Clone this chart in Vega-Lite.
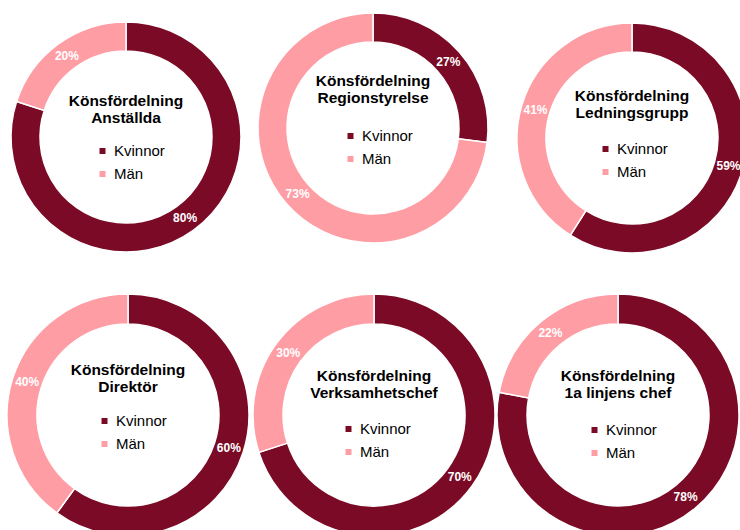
{
  "$schema": "https://vega.github.io/schema/vega-lite/v6.json",
  "padding": 0,
  "spacing": 0,
  "background": "white",
  "config": {
    "view": {"stroke": null},
    "font": "Liberation Sans",
    "legend": {"padding": 0, "labelFont": "Liberation Sans", "labelFontSize": 15, "labelColor": "#000000", "symbolType": "square", "symbolSize": 36, "symbolStrokeWidth": 0, "rowPadding": 7, "labelOffset": 4, "title": null}
  },
  "resolve": {"scale": {"color": "independent"}, "legend": {"color": "independent"}},
  "vconcat": [
    {
      "spacing": 0,
      "bounds": "flush",
      "resolve": {"scale": {"color": "independent"}, "legend": {"color": "independent"}},
      "hconcat": [
        {
          "width": 252, "height": 274,
          "data": {"values": [{"grupp": "Anställda", "kon": "Kvinnor", "andel": 0.80}, {"grupp": "Anställda", "kon": "Män", "andel": 0.20}]},
          "layer": [
            {"mark": {"type": "arc", "innerRadius": 86, "outerRadius": 115, "stroke": "white", "strokeWidth": 1.5},
             "encoding": {"theta": {"field": "andel", "type": "quantitative", "stack": true},
                          "order": {"field": "kon", "type": "ordinal", "sort": "ascending"},
                          "color": {"field": "kon", "type": "nominal", "scale": {"domain": ["Kvinnor", "Män"], "range": ["#7A0A25", "#FF9DA5"]}, "legend": {"orient": "none", "legendX": 95, "legendY": 143.5}}}},
            {"mark": {"type": "text", "radius": 100.5, "fontSize": 12, "fontWeight": "bold", "fill": "white"},
             "encoding": {"theta": {"field": "andel", "type": "quantitative", "stack": true},
                          "order": {"field": "kon", "type": "ordinal", "sort": "ascending"},
                          "text": {"field": "andel", "type": "quantitative", "format": ".0%"}}},
            {"data": {"values": [{"titel": "Anställda"}]},
             "mark": {"type": "text", "text": ["Könsfördelning", "Anställda"], "fontSize": 15.5, "fontWeight": "bold", "fill": "#000000", "align": "center", "baseline": "alphabetic", "lineHeight": 17, "dy": -31},
             "encoding": {}}
          ]
        },
        {
          "width": 242, "height": 256,
          "data": {"values": [{"grupp": "Regionstyrelse", "kon": "Kvinnor", "andel": 0.27}, {"grupp": "Regionstyrelse", "kon": "Män", "andel": 0.73}]},
          "layer": [
            {"mark": {"type": "arc", "innerRadius": 86, "outerRadius": 115, "stroke": "white", "strokeWidth": 1.5},
             "encoding": {"theta": {"field": "andel", "type": "quantitative", "stack": true},
                          "order": {"field": "kon", "type": "ordinal", "sort": "ascending"},
                          "color": {"field": "kon", "type": "nominal", "scale": {"domain": ["Kvinnor", "Män"], "range": ["#7A0A25", "#FF9DA5"]}, "legend": {"orient": "none", "legendX": 91, "legendY": 128.5}}}},
            {"mark": {"type": "text", "radius": 100.5, "fontSize": 12, "fontWeight": "bold", "fill": "white"},
             "encoding": {"theta": {"field": "andel", "type": "quantitative", "stack": true},
                          "order": {"field": "kon", "type": "ordinal", "sort": "ascending"},
                          "text": {"field": "andel", "type": "quantitative", "format": ".0%"}}},
            {"data": {"values": [{"titel": "Regionstyrelse"}]},
             "mark": {"type": "text", "text": ["Könsfördelning", "Regionstyrelse"], "fontSize": 15.5, "fontWeight": "bold", "fill": "#000000", "align": "center", "baseline": "alphabetic", "lineHeight": 17, "dy": -42},
             "encoding": {}}
          ]
        },
        {
          "width": 276, "height": 276,
          "data": {"values": [{"grupp": "Ledningsgrupp", "kon": "Kvinnor", "andel": 0.59}, {"grupp": "Ledningsgrupp", "kon": "Män", "andel": 0.41}]},
          "layer": [
            {"mark": {"type": "arc", "innerRadius": 86, "outerRadius": 115, "stroke": "white", "strokeWidth": 1.5},
             "encoding": {"theta": {"field": "andel", "type": "quantitative", "stack": true},
                          "order": {"field": "kon", "type": "ordinal", "sort": "ascending"},
                          "color": {"field": "kon", "type": "nominal", "scale": {"domain": ["Kvinnor", "Män"], "range": ["#7A0A25", "#FF9DA5"]}, "legend": {"orient": "none", "legendX": 104, "legendY": 141.5}}}},
            {"mark": {"type": "text", "radius": 100.5, "fontSize": 12, "fontWeight": "bold", "fill": "white"},
             "encoding": {"theta": {"field": "andel", "type": "quantitative", "stack": true},
                          "order": {"field": "kon", "type": "ordinal", "sort": "ascending"},
                          "text": {"field": "andel", "type": "quantitative", "format": ".0%"}}},
            {"data": {"values": [{"titel": "Ledningsgrupp"}]},
             "mark": {"type": "text", "text": ["Könsfördelning", "Ledningsgrupp"], "fontSize": 15.5, "fontWeight": "bold", "fill": "#000000", "align": "center", "baseline": "alphabetic", "lineHeight": 17, "dy": -37},
             "encoding": {}}
          ]
        }
      ]
    },
    {
      "spacing": 0,
      "bounds": "flush",
      "resolve": {"scale": {"color": "independent"}, "legend": {"color": "independent"}},
      "hconcat": [
        {
          "width": 256, "height": 278,
          "data": {"values": [{"grupp": "Direktör", "kon": "Kvinnor", "andel": 0.60}, {"grupp": "Direktör", "kon": "Män", "andel": 0.40}]},
          "layer": [
            {"mark": {"type": "arc", "innerRadius": 91, "outerRadius": 121, "stroke": "white", "strokeWidth": 1.5},
             "encoding": {"theta": {"field": "andel", "type": "quantitative", "stack": true},
                          "order": {"field": "kon", "type": "ordinal", "sort": "ascending"},
                          "color": {"field": "kon", "type": "nominal", "scale": {"domain": ["Kvinnor", "Män"], "range": ["#7A0A25", "#FF9DA5"]}, "legend": {"orient": "none", "legendX": 97, "legendY": 137.5}}}},
            {"mark": {"type": "text", "radius": 106, "fontSize": 12, "fontWeight": "bold", "fill": "white"},
             "encoding": {"theta": {"field": "andel", "type": "quantitative", "stack": true},
                          "order": {"field": "kon", "type": "ordinal", "sort": "ascending"},
                          "text": {"field": "andel", "type": "quantitative", "format": ".0%"}}},
            {"data": {"values": [{"titel": "Direktör"}]},
             "mark": {"type": "text", "text": ["Könsfördelning", "Direktör"], "fontSize": 15.5, "fontWeight": "bold", "fill": "#000000", "align": "center", "baseline": "alphabetic", "lineHeight": 17, "dy": -40},
             "encoding": {}}
          ]
        },
        {
          "width": 236, "height": 278,
          "data": {"values": [{"grupp": "Verksamhetschef", "kon": "Kvinnor", "andel": 0.70}, {"grupp": "Verksamhetschef", "kon": "Män", "andel": 0.30}]},
          "layer": [
            {"mark": {"type": "arc", "innerRadius": 91, "outerRadius": 121, "stroke": "white", "strokeWidth": 1.5},
             "encoding": {"theta": {"field": "andel", "type": "quantitative", "stack": true},
                          "order": {"field": "kon", "type": "ordinal", "sort": "ascending"},
                          "color": {"field": "kon", "type": "nominal", "scale": {"domain": ["Kvinnor", "Män"], "range": ["#7A0A25", "#FF9DA5"]}, "legend": {"orient": "none", "legendX": 85, "legendY": 145.5}}}},
            {"mark": {"type": "text", "radius": 106, "fontSize": 12, "fontWeight": "bold", "fill": "white"},
             "encoding": {"theta": {"field": "andel", "type": "quantitative", "stack": true},
                          "order": {"field": "kon", "type": "ordinal", "sort": "ascending"},
                          "text": {"field": "andel", "type": "quantitative", "format": ".0%"}}},
            {"data": {"values": [{"titel": "Verksamhetschef"}]},
             "mark": {"type": "text", "text": ["Könsfördelning", "Verksamhetschef"], "fontSize": 15.5, "fontWeight": "bold", "fill": "#000000", "align": "center", "baseline": "alphabetic", "lineHeight": 17, "dy": -34},
             "encoding": {}}
          ]
        },
        {
          "width": 252, "height": 278,
          "data": {"values": [{"grupp": "1a linjens chef", "kon": "Kvinnor", "andel": 0.78}, {"grupp": "1a linjens chef", "kon": "Män", "andel": 0.22}]},
          "layer": [
            {"mark": {"type": "arc", "innerRadius": 91, "outerRadius": 121, "stroke": "white", "strokeWidth": 1.5},
             "encoding": {"theta": {"field": "andel", "type": "quantitative", "stack": true},
                          "order": {"field": "kon", "type": "ordinal", "sort": "ascending"},
                          "color": {"field": "kon", "type": "nominal", "scale": {"domain": ["Kvinnor", "Män"], "range": ["#7A0A25", "#FF9DA5"]}, "legend": {"orient": "none", "legendX": 95, "legendY": 146.5}}}},
            {"mark": {"type": "text", "radius": 106, "fontSize": 12, "fontWeight": "bold", "fill": "white"},
             "encoding": {"theta": {"field": "andel", "type": "quantitative", "stack": true},
                          "order": {"field": "kon", "type": "ordinal", "sort": "ascending"},
                          "text": {"field": "andel", "type": "quantitative", "format": ".0%"}}},
            {"data": {"values": [{"titel": "1a linjens chef"}]},
             "mark": {"type": "text", "text": ["Könsfördelning", "1a linjens chef"], "fontSize": 15.5, "fontWeight": "bold", "fill": "#000000", "align": "center", "baseline": "alphabetic", "lineHeight": 17, "dy": -34},
             "encoding": {}}
          ]
        }
      ]
    }
  ]
}
